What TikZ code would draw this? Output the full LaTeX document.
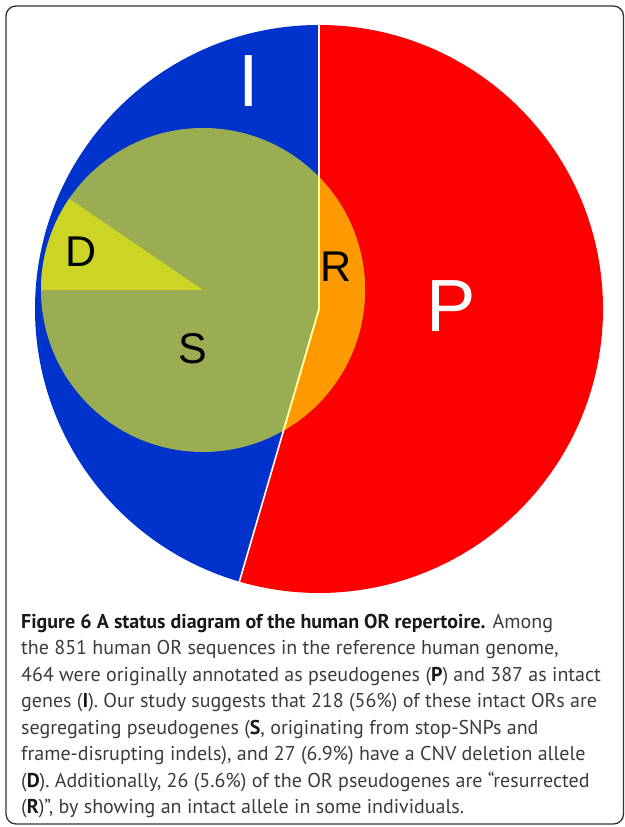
\documentclass[tikz,border=0pt]{standalone}
\usepackage{fontspec}
\newfontfamily\labelfont{Liberation Sans}
\newfontfamily\captionfont{PT Sans}
\definecolor{intactblue}{RGB}{0,51,204}
\definecolor{pseudored}{RGB}{255,0,0}
\definecolor{segrgreen}{RGB}{155,173,82}
\definecolor{delyellow}{RGB}{204,212,38}
\definecolor{resorange}{RGB}{255,153,0}
\definecolor{divyellow}{RGB}{255,255,150}
\definecolor{framegray}{RGB}{50,50,50}
\definecolor{captiongray}{RGB}{60,60,60}
\tikzset{
  biglabel/.style={font=\labelfont\fontsize{74}{74}\selectfont, text=white, inner sep=0},
  smalllabel/.style={font=\labelfont\fontsize{43}{43}\selectfont, text=black, inner sep=0},
  divider/.style={line width=1.6pt}
}
\begin{document}
\begin{tikzpicture}[x=1pt, y=1pt]
    \useasboundingbox (0,0) rectangle (624,827);

    % Frame
    \draw[framegray, line width=1.3pt, rounded corners=10pt] (6,3) rectangle (623.5,821);

    % Outer pie: intact (I) and pseudogenes (P)
    \coordinate (hub) at (319,518);
    \coordinate (top) at (319,802);
    \coordinate (foot) at (239.4,245.4);
    \fill[intactblue] (hub) -- (top) arc[start angle=90, end angle=253.72, radius=284] -- cycle;
    \fill[pseudored] (hub) -- (top) arc[start angle=90, end angle=-106.28, radius=284] -- cycle;

    % Inner pie: segregating (S), deletion (D), resurrected (R)
    \coordinate (inner) at (203,537);
    \fill[segrgreen] (inner) circle[radius=162];
    \begin{scope}
        \clip (hub) -- (top) arc[start angle=90, end angle=-106.28, radius=284] -- cycle;
        \fill[resorange] (inner) circle[radius=162];
    \end{scope}
    \fill[delyellow] (inner) -- ++(180:162) arc[start angle=180, end angle=145.7, radius=162] -- cycle;

    % Divider
    \draw[divider, white] (top) -- (hub) -- (foot);
    \begin{scope}
        \clip (inner) circle[radius=162];
        \draw[divider, divyellow] (top) -- (hub) -- (foot);
    \end{scope}

    % Labels
    \node[biglabel] (intact) at (249,745.5) {I};
    \node[biglabel] (pseudo) at (451,520.5) {P};
    \node[smalllabel] (deletion) at (81.5,575.5) {D};
    \node[smalllabel] (resurr) at (336.5,560) {R};
    \node[smalllabel] (segr) at (192.5,478) {S};

    % Caption
    \node[anchor=base west, inner sep=0, text=captiongray,
          font=\captionfont\fontsize{20}{26.5}\selectfont] (caption) at (21,213) {%
      \parbox[t]{640pt}{\raggedright
      {\color{black!90}\bfseries Figure 6 A status diagram of the human OR repertoire.} Among\\
      the 851 human OR sequences in the reference human genome,\\
      464 were originally annotated as pseudogenes ({\color{black!90}\bfseries P}) and 387 as intact\\
      genes ({\color{black!90}\bfseries I}). Our study suggests that 218 (56\%) of these intact ORs are\\
      segregating pseudogenes ({\color{black!90}\bfseries S}, originating from stop-SNPs and\\
      frame-disrupting indels), and 27 (6.9\%) have a CNV deletion allele\\
      ({\color{black!90}\bfseries D}). Additionally, 26 (5.6\%) of the OR pseudogenes are “resurrected\\
      ({\color{black!90}\bfseries R})”, by showing an intact allele in some individuals.}};
\end{tikzpicture}
\end{document}
